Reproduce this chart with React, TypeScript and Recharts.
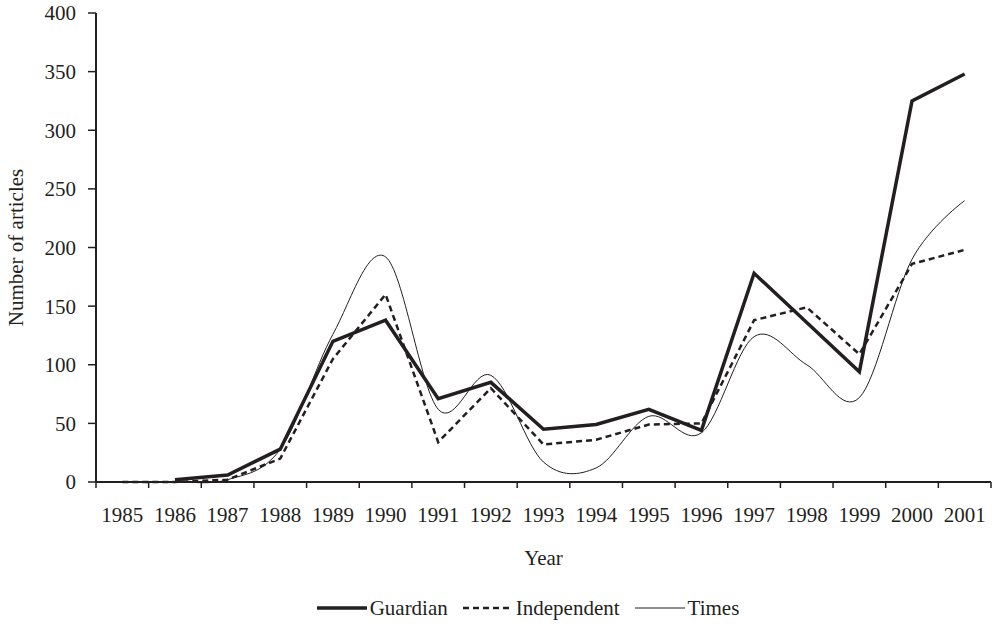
import { Legend, Line, LineChart, XAxis, YAxis } from "recharts";

// Articles per year
const YEARS = [1985, 1986, 1987, 1988, 1989, 1990, 1991, 1992, 1993, 1994, 1995, 1996, 1997, 1998, 1999, 2000, 2001];
const GUARDIAN = [null, 2, 6, 28, 120, 138, 71, 85, 45, 49, 62, 44, 178, 136, 94, 325, 348];
const INDEPENDENT = [0, 0, 2, 20, 105, 160, 34, 80, 32, 36, 49, 50, 138, 149, 109, 186, 198];
const TIMES = [0, 0, 2, 28, 126, 192, 62, 91, 17, 12, 56, 42, 124, 100, 72, 190, 240];
const Y_TICKS = [0, 50, 100, 150, 200, 250, 300, 350, 400];

const INK = "#231f20";
const FONT = "'Liberation Serif', 'Times New Roman', serif";
const FONT_SIZE = 21;

const WIDTH = 993;
const HEIGHT = 625;
const MARGIN = { top: 13, right: 2, bottom: 5, left: 0 };
const Y_AXIS_W = 96;
const PLOT_W = WIDTH - MARGIN.left - MARGIN.right - Y_AXIS_W;
const HALF_BAND = PLOT_W / YEARS.length / 2;

// tick marks sit between the years, like a category axis
const BOUNDS = [...YEARS.map((y) => y - 0.5), YEARS[YEARS.length - 1] + 0.5];

const data = YEARS.map((year, i) => ({
  year,
  guardian: GUARDIAN[i],
  independent: INDEPENDENT[i],
  times: TIMES[i],
}));

// Excel-like smoothed line (cardinal spline, tension 0).
function excelSmooth(context: any) {
  let x0 = NaN, y0 = NaN, x1 = NaN, y1 = NaN, x2 = NaN, y2 = NaN;
  let n = 0;
  let line = NaN;
  const seg = (x: number, y: number) => {
    context.bezierCurveTo(
      x1 + (x2 - x0) / 6,
      y1 + (y2 - y0) / 6,
      x2 + (x1 - x) / 6,
      y2 + (y1 - y) / 6,
      x2,
      y2
    );
  };
  return {
    areaStart() {
      line = 0;
    },
    areaEnd() {
      line = NaN;
    },
    lineStart() {
      x0 = x1 = x2 = y0 = y1 = y2 = NaN;
      n = 0;
    },
    lineEnd() {
      if (n === 2) context.lineTo(x2, y2);
      else if (n === 3) seg(x1, y1);
      if (line || (line !== 0 && n === 1)) context.closePath();
      line = 1 - line;
    },
    point(x: number, y: number) {
      x = +x;
      y = +y;
      if (n === 0) {
        n = 1;
        if (line) context.lineTo(x, y);
        else context.moveTo(x, y);
      } else if (n === 1) {
        n = 2;
        x1 = x;
        y1 = y;
      } else {
        n = 3;
        seg(x, y);
      }
      x0 = x1;
      x1 = x2;
      x2 = x;
      y0 = y1;
      y1 = y2;
      y2 = y;
    },
  };
}

const SERIES = [
  { key: "guardian", name: "Guardian", width: 3.5, dash: undefined, curve: "linear" as any },
  { key: "independent", name: "Independent", width: 2.5, dash: "6 4", curve: "linear" as any },
  { key: "times", name: "Times", width: 1, dash: undefined, curve: excelSmooth as any },
];

function YearTick({ x, y, payload }: any) {
  const year = payload.value + 0.5;
  if (year > YEARS[YEARS.length - 1]) return <g />;
  return (
    <text
      x={x + HALF_BAND}
      y={y}
      dy="0.71em"
      textAnchor="middle"
      fill={INK}
      fontSize={FONT_SIZE}
      fontFamily={FONT}
    >
      {year}
    </text>
  );
}

function LegendKey() {
  return (
    <div
      style={{
        display: "flex",
        justifyContent: "center",
        alignItems: "center",
        height: 24,
        paddingLeft: 80,
        fontFamily: FONT,
        fontSize: FONT_SIZE,
        color: INK,
      }}
    >
      {SERIES.map((s) => (
        <span key={s.key} style={{ display: "flex", alignItems: "center", marginRight: 15 }}>
          <svg width={50} height={10}>
            <line x1={0} y1={5} x2={50} y2={5} stroke={INK} strokeWidth={s.width} strokeDasharray={s.dash} />
          </svg>
          <span style={{ marginLeft: 3, lineHeight: "24px" }}>{s.name}</span>
        </span>
      ))}
    </div>
  );
}

export default function App() {
  return (
    <div style={{ position: "absolute", left: 0, top: 0, width: WIDTH, height: HEIGHT, background: "#fff" }}>
      <LineChart width={WIDTH} height={HEIGHT} data={data} margin={MARGIN} style={{ fontFamily: FONT }}>
        <XAxis
          dataKey="year"
          type="number"
          domain={[BOUNDS[0], BOUNDS[BOUNDS.length - 1]]}
          ticks={BOUNDS}
          interval={0}
          height={114}
          tick={<YearTick />}
          tickSize={6}
          tickMargin={19}
          tickLine={{ stroke: INK, strokeWidth: 1.5 }}
          axisLine={{ stroke: INK, strokeWidth: 2 }}
          label={{ value: "Year", position: "insideBottom", offset: 31, fill: INK, fontSize: FONT_SIZE, fontFamily: FONT }}
        />
        <XAxis
          xAxisId="top"
          orientation="top"
          dataKey="year"
          type="number"
          domain={[BOUNDS[0], BOUNDS[BOUNDS.length - 1]]}
          height={0}
          tick={false}
          tickLine={false}
          axisLine={{ stroke: INK, strokeWidth: 2 }}
        />
        <YAxis
          width={Y_AXIS_W}
          domain={[0, 400]}
          ticks={Y_TICKS}
          interval={0}
          tickSize={8}
          tickMargin={12}
          tick={{ fill: INK, fontSize: FONT_SIZE, fontFamily: FONT }}
          tickLine={{ stroke: INK, strokeWidth: 1.5 }}
          axisLine={{ stroke: INK, strokeWidth: 2 }}
          label={{
            value: "Number of articles",
            angle: -90,
            position: "insideLeft",
            offset: 16,
            fill: INK,
            fontSize: FONT_SIZE,
            fontFamily: FONT,
            style: { textAnchor: "middle" },
          }}
        />
        <YAxis
          yAxisId="right"
          orientation="right"
          width={0}
          domain={[0, 400]}
          tick={false}
          tickLine={false}
          axisLine={{ stroke: INK, strokeWidth: 1 }}
        />
        <Legend verticalAlign="bottom" content={<LegendKey />} />
        {SERIES.map((s) => (
          <Line
            key={s.key}
            dataKey={s.key}
            name={s.name}
            type={s.curve}
            stroke={INK}
            strokeWidth={s.width}
            strokeDasharray={s.dash}
            dot={false}
            activeDot={false}
            connectNulls={false}
            isAnimationActive={false}
          />
        ))}
      </LineChart>
    </div>
  );
}
